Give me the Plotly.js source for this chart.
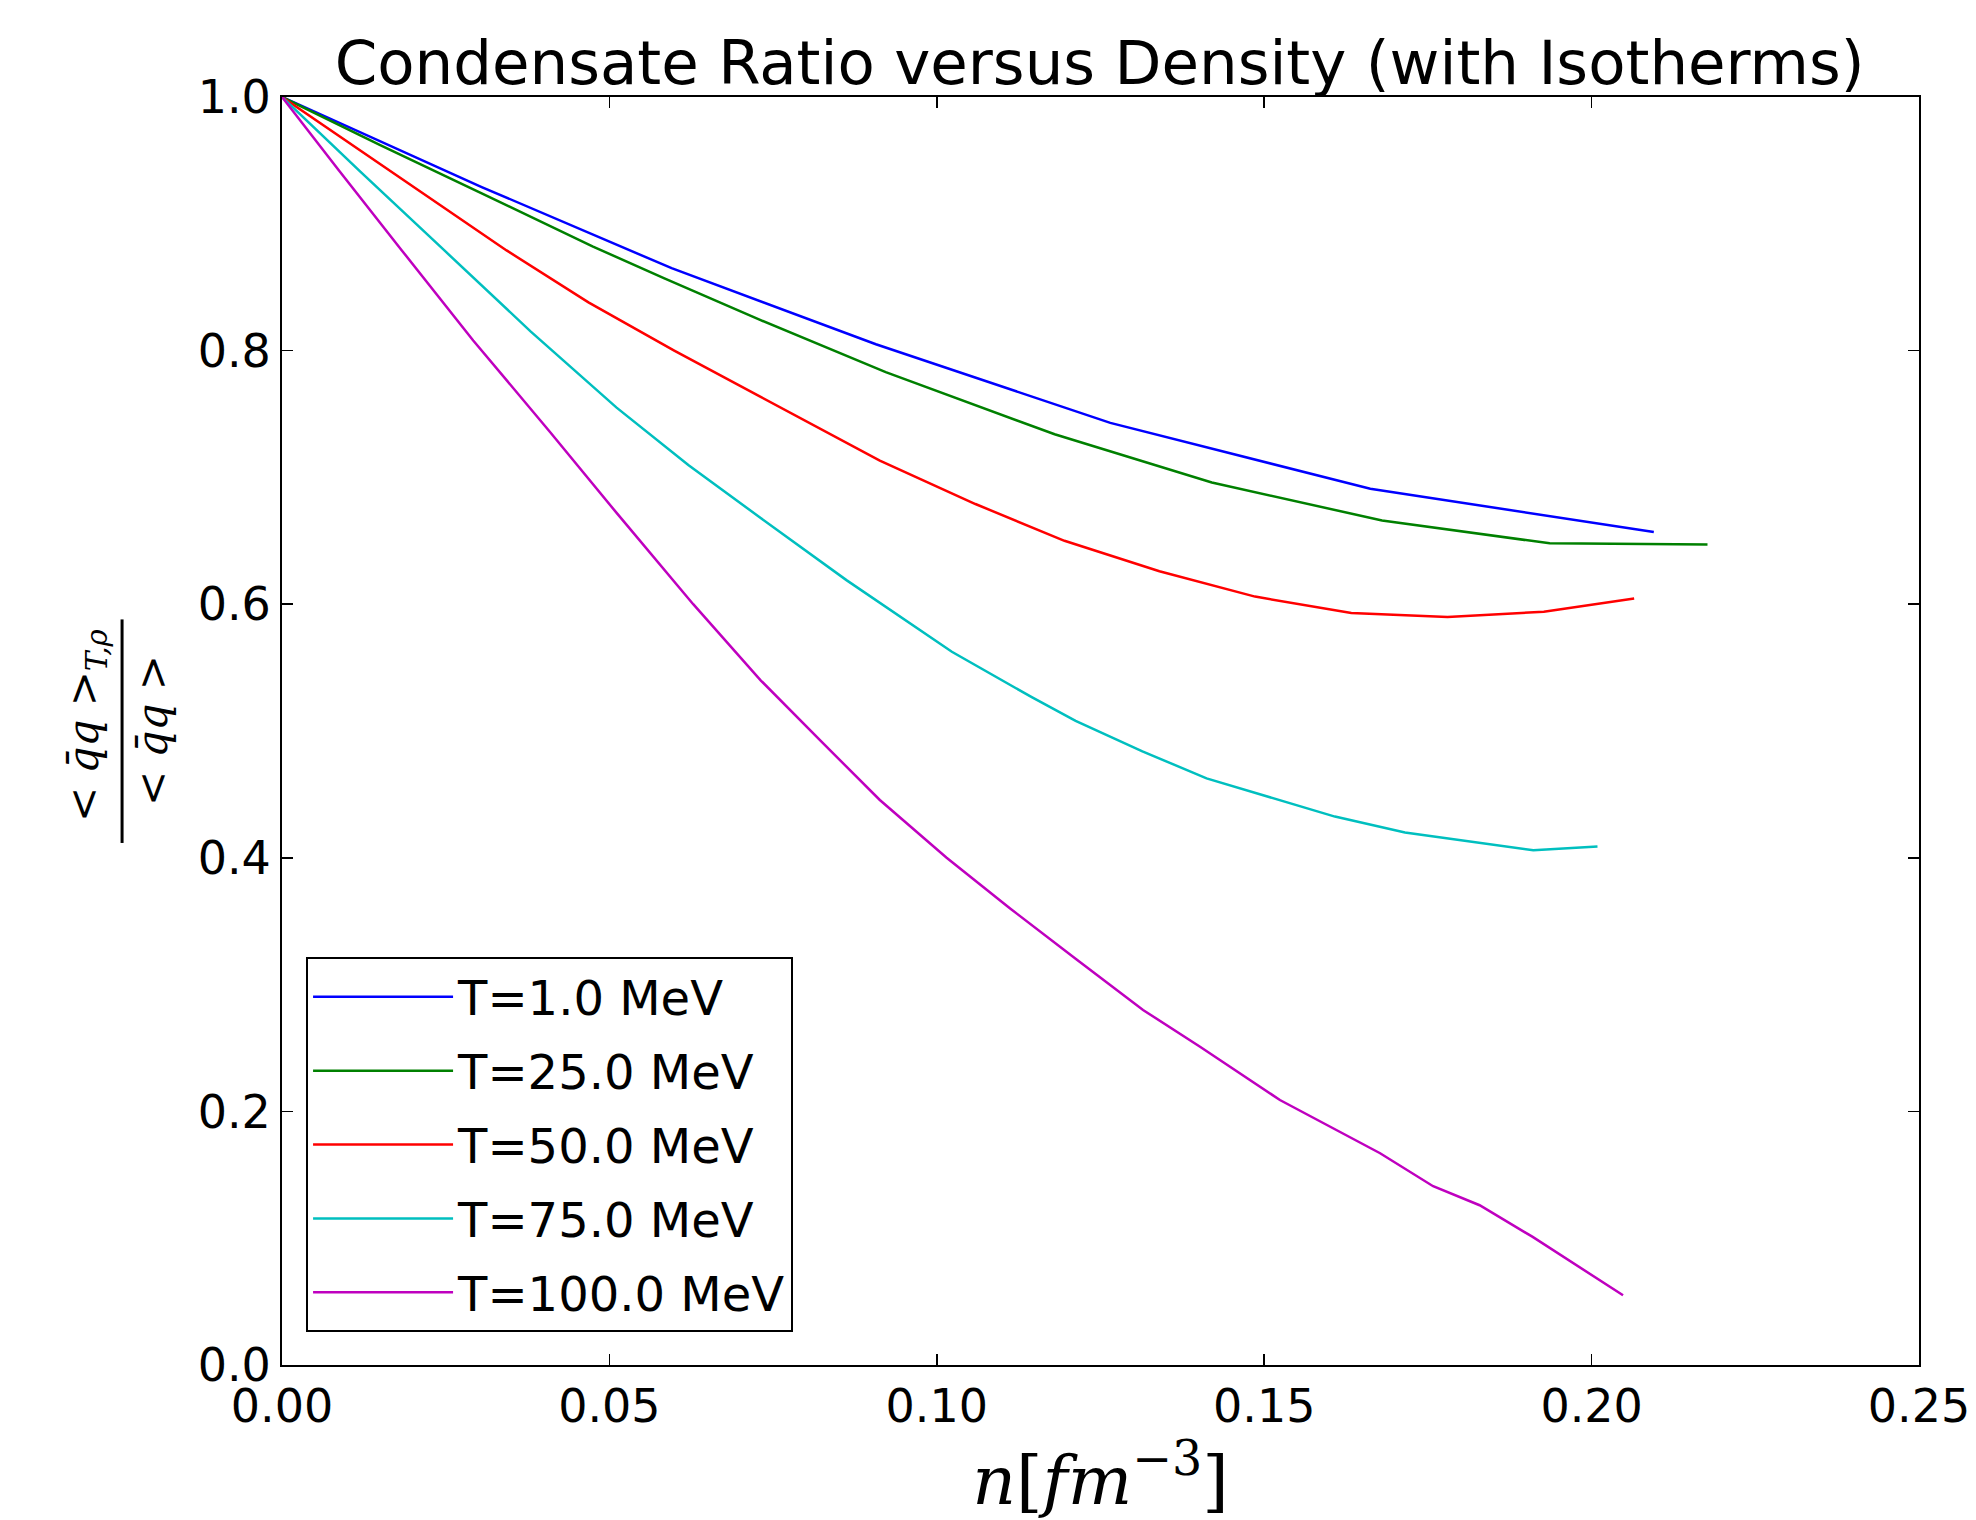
<!DOCTYPE html>
<html>
<head>
<meta charset="utf-8">
<script src="https://cdn.plot.ly/plotly-3.0.1.min.js"></script>
<style>html,body{margin:0;padding:0;background:#fff;}</style>
</head>
<body>
<div id="chart" style="width:1976px;height:1520px;"></div>
<script>
// Series labels
const seriesNames = ["T=1.0 MeV", "T=25.0 MeV", "T=50.0 MeV", "T=75.0 MeV", "T=100.0 MeV"];

// T = 1 MeV
const n_T1 = [0, 0.0305, 0.0595, 0.0907, 0.1265, 0.1662, 0.2095];
const r_T1 = [1.0, 0.929, 0.865, 0.805, 0.743, 0.691, 0.657];

// T = 25 MeV
const n_T25 = [0, 0.015, 0.0305, 0.0475, 0.0584, 0.0731, 0.0922, 0.118, 0.142, 0.168, 0.1936, 0.2177];
const r_T25 = [1.0, 0.962, 0.924, 0.882, 0.857, 0.824, 0.783, 0.734, 0.696, 0.666, 0.648, 0.647];

// T = 50 MeV
const n_T50 = [0, 0.015, 0.0343, 0.0468, 0.0599, 0.0731, 0.0913, 0.1059, 0.1195, 0.134, 0.1486, 0.1633, 0.178, 0.1927, 0.2065];
const r_T50 = [1.0, 0.947, 0.879, 0.838, 0.800, 0.7635, 0.7133, 0.679, 0.650, 0.626, 0.606, 0.593, 0.590, 0.594, 0.6045];

// T = 75 MeV
const n_T75 = [0, 0.012, 0.0248, 0.038, 0.0511, 0.0621, 0.0731, 0.0862, 0.1023, 0.1145, 0.1212, 0.1314, 0.1412, 0.150, 0.1608, 0.1715, 0.1911, 0.2009];
const r_T75 = [1.0, 0.941, 0.879, 0.815, 0.755, 0.7096, 0.668, 0.619, 0.5625, 0.5267, 0.508, 0.484, 0.4626, 0.449, 0.4325, 0.420, 0.406, 0.409];

// T = 100 MeV
const n_T100 = [0, 0.0087, 0.0183, 0.0292, 0.0409, 0.0511, 0.0628, 0.0731, 0.0825, 0.0913, 0.1015, 0.1112, 0.1213, 0.1315, 0.1402, 0.1524, 0.1677, 0.1758, 0.1829, 0.191, 0.2048];
const r_T100 = [1.0, 0.942, 0.879, 0.808, 0.736, 0.672, 0.600, 0.540, 0.491, 0.4456, 0.400, 0.360, 0.320, 0.280, 0.251, 0.209, 0.167, 0.141, 0.126, 0.101, 0.055];

const xTickVals = [0, 0.05, 0.10, 0.15, 0.20, 0.25];
const yTickVals = [0, 0.2, 0.4, 0.6, 0.8, 1.0];

const colors = ["#0000ff", "#008000", "#ff0000", "#00bfbf", "#bf00bf"];
const xs = [n_T1, n_T25, n_T50, n_T75, n_T100];
const ys = [r_T1, r_T25, r_T50, r_T75, r_T100];

const traces = xs.map((x, i) => ({
  x: x, y: ys[i], type: "scatter", mode: "lines",
  name: seriesNames[i], legendgroup: "g" + i,
  line: {color: colors[i], width: 2.5}
}));

const sans = "DejaVu Sans, sans-serif";
const serif = "DejaVu Serif, serif";

const layout = {
  width: 1976, height: 1520,
  margin: {l: 282, r: 57, t: 97, b: 155},
  paper_bgcolor: "#fff", plot_bgcolor: "#fff",
  font: {family: sans, color: "#000"},
  title: {
    text: "Condensate Ratio versus Density (with Isotherms)",
    font: {family: sans, size: 61, color: "#000"},
    x: 0.5565, xanchor: "center", xref: "container",
    y: 0.959, yanchor: "middle", yref: "container"
  },
  xaxis: {
    range: [0, 0.25], tickmode: "array", tickvals: xTickVals,
    tickformat: ".2f",
    ticks: "inside", ticklen: 11, tickwidth: 1.5, tickcolor: "#000",
    showline: true, linecolor: "#000", linewidth: 2, mirror: "ticks",
    showgrid: false, zeroline: false,
    tickfont: {family: sans, size: 46, color: "#000"},
    title: {
      text: "<i>n</i>[<i>fm</i><sup>−3</sup>]",
      font: {family: serif, size: 68, color: "#000"},
      standoff: 8
    }
  },
  yaxis: {
    range: [0, 1], tickmode: "array", tickvals: yTickVals,
    tickformat: ".1f",
    ticks: "inside", ticklen: 11, tickwidth: 1.5, tickcolor: "#000",
    showline: true, linecolor: "#000", linewidth: 2, mirror: "ticks",
    showgrid: false, zeroline: false,
    tickfont: {family: sans, size: 46, color: "#000"},
    title: {text: ""}
  },
  legend: {
    x: 0.0147, y: 0.026, xanchor: "left", yanchor: "bottom",
    bgcolor: "#fff", bordercolor: "#000", borderwidth: 2,
    font: {family: sans, size: 48, color: "#000"},
    tracegroupgap: 8.5,
    itemwidth: 140
  },
  annotations: [
    {
      text: "&lt; <i>q̄q</i> &gt;<sub><i>T,ρ</i></sub>",
      xref: "paper", yref: "paper", x: 0, y: 0.5,
      xshift: -196, yshift: 6, textangle: -90, showarrow: false,
      font: {family: serif, size: 42, color: "#000"},
      xanchor: "center", yanchor: "middle"
    },
    {
      text: "&lt; <i>q̄q</i> &gt;",
      xref: "paper", yref: "paper", x: 0, y: 0.5,
      xshift: -130, yshift: 0, textangle: -90, showarrow: false,
      font: {family: serif, size: 42, color: "#000"},
      xanchor: "center", yanchor: "middle"
    }
  ],
  shapes: [
    {
      type: "line", xref: "paper", yref: "paper",
      x0: -0.0977, x1: -0.0977, y0: 0.4117, y1: 0.588,
      line: {color: "#000", width: 3}
    }
  ]
};

Plotly.newPlot("chart", traces, layout, {displayModeBar: false, staticPlot: true});
</script>
</body>
</html>
